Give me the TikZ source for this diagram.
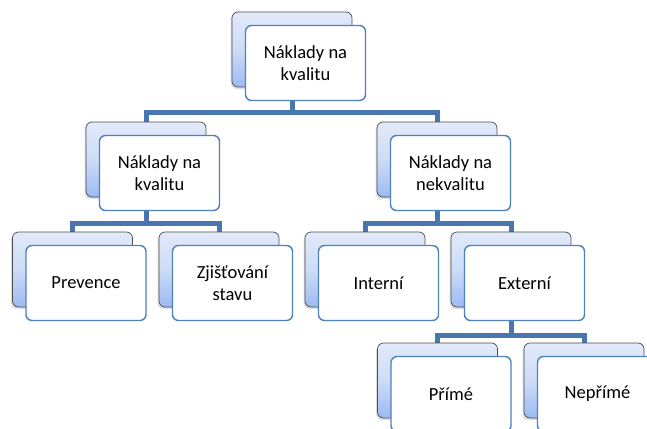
\documentclass[tikz,border=0pt]{standalone}
\usepackage{fontspec}
\setmainfont{Carlito}
\usepackage{tikz}
\usetikzlibrary{positioning,shadows,backgrounds}

\definecolor{linkblue}{HTML}{4A76B0}
\definecolor{frameblue}{HTML}{4F81BD}
\definecolor{shadetop}{HTML}{E2EAF9}
\definecolor{shadebottom}{HTML}{9CBAF3}

\tikzset{
    backbox/.style={draw=black!70, line width=0.7pt, rounded corners=6pt,
        top color=shadetop, bottom color=shadebottom, middle color=shadetop!70!shadebottom,
        minimum width=120pt, minimum height=75pt,
        drop shadow={shadow xshift=-1.5pt, shadow yshift=-2pt, opacity=.25}},
    frontbox/.style={draw=frameblue, line width=1.4pt, rounded corners=6pt,
        fill=white, minimum width=120pt, minimum height=75pt, align=center,
        font=\fontsize{18.5}{22.5}\selectfont},
    link/.style={draw=linkblue, line width=5pt}
}

\begin{document}
\begin{tikzpicture}[x=1pt,y=-1pt]
    \useasboundingbox (0,0) rectangle (647,428);

    \foreach \n/\x/\y/\t in {
        top/292/49.5/{Náklady na\\kvalitu},
        qual/146/159.5/{Náklady na\\kvalitu},
        nqual/437/159.5/{Náklady na\\nekvalitu},
        prev/72.5/269.5/{Prevence},
        check/219/269.5/{Zjišťování\\stavu},
        int/365/269.5/{Interní},
        ext/511/269.5/{Externí},
        direct/437.5/380.5/{Přímé},
        indirect/584/380.5/{Nepřímé}} {
        \node[backbox] (\n B) at (\x,\y) {};
        \node[frontbox] (\n) at ([shift={(13.5,13.5)}]\n B) {\t};
    }

    \begin{scope}[on background layer]
    \path[link]
    (topB.south) -- ++(0,25) -| (qualB.north)
    (topB.south) -- ++(0,25) -| (nqualB.north)
    (qualB.south) -- ++(0,26) -| (prevB.north)
    (qualB.south) -- ++(0,26) -| (checkB.north)
    (nqualB.south) -- ++(0,26) -| (intB.north)
    (nqualB.south) -- ++(0,26) -| (extB.north)
    (extB.south) -- ++(0,28) -| (directB.north)
    (extB.south) -- ++(0,28) -| (indirectB.north);
    \end{scope}
\end{tikzpicture}
\end{document}
